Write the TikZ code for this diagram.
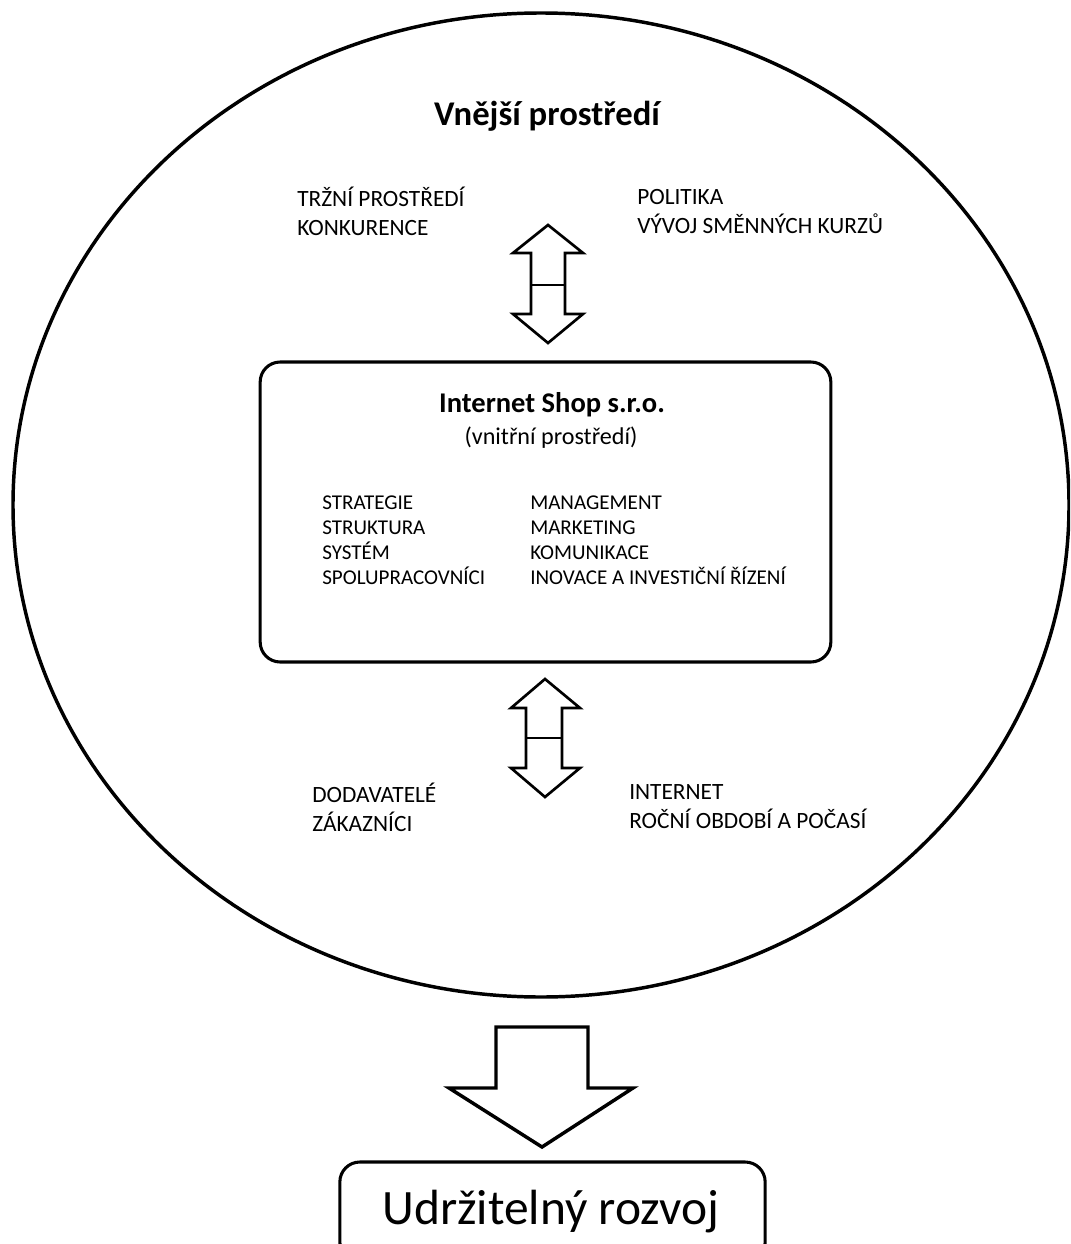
\documentclass[tikz,border=0pt]{standalone}
\usepackage{fontspec}
\setmainfont{Carlito}
\usetikzlibrary{shapes.geometric}

\tikzset{
	lbl/.style={anchor=base west, inner sep=0pt, align=left, font=\fontsize{17.5}{21.75}\selectfont},
	item/.style={anchor=base west, inner sep=0pt, font=\fontsize{15.8}{19}\selectfont},
	blk/.style={draw, line width=2.3pt, rounded corners=15pt},
	harrow/.style={draw, line width=2pt, line join=miter, fill=white}
}

\begin{document}
\begin{tikzpicture}[x=0.75pt, y=-0.75pt]
		\useasboundingbox (0,0) rectangle (1070,1244);
		\clip (0,0) rectangle (1070,1244);
		\fill[white] (0,0) rectangle (1070,1244);
		% outer environment
		\node[ellipse, draw, line width=2.6pt, inner sep=0pt, minimum width=792pt, minimum height=738pt] (env) at (541,505) {};
		\node[anchor=base, inner sep=0pt, font=\fontsize{26}{30}\selectfont\bfseries] (envtitle) at (547,126) {Vnější prostředí};
		% base = baseline of the second line
		\node[lbl] (market) at (297,236) {TRŽNÍ PROSTŘEDÍ\\KONKURENCE};
		\node[lbl] (policy) at (637,234) {POLITIKA\\VÝVOJ SMĚNNÝCH KURZŮ};
		\node[lbl] (supply) at (312,831) {DODAVATELÉ\\ZÁKAZNÍCI};
		\node[lbl] (net) at (629,828) {INTERNET\\ROČNÍ OBDOBÍ A POČASÍ};
		% internal environment
		\node[blk, minimum width=428pt, minimum height=225pt] (shop) at (545.5,512) {};
		\node[anchor=base, inner sep=0pt, font=\fontsize{21.4}{25}\selectfont\bfseries] (shopname) at (552,412) {Internet Shop s.r.o.};
		\node[anchor=base, inner sep=0pt, font=\fontsize{18.1}{21}\selectfont] (shopsub) at (551,444) {(vnitřní prostředí)};
		\foreach \y/\alph/\name in {
			509/s1/STRATEGIE,
			534/s2/STRUKTURA,
			559/s3/SYSTÉM,
			584/s4/SPOLUPRACOVNÍCI
		}{
			\node[item] (\alph) at (322,\y) {\name};
		}
		\foreach \y/\alph/\name in {
			509/m1/MANAGEMENT,
			534/m2/MARKETING,
			559/m3/KOMUNIKACE,
			584/m4/INOVACE A INVESTIČNÍ ŘÍZENÍ
		}{
			\node[item] (\alph) at (530,\y) {\name};
		}
		% double arrows
		\draw[harrow] (548,225) -- (583,253) -- (565,253) -- (565,314) -- (583,314) -- (548,343)
			-- (513,314) -- (531,314) -- (531,253) -- (513,253) -- cycle;
		\draw[line width=2pt] (531,285) -- (565,285);
		\draw[harrow] (545,679) -- (580,708) -- (562,708) -- (562,768) -- (580,768) -- (545,797)
			-- (511,768) -- (526,768) -- (526,708) -- (511,708) -- cycle;
		\draw[line width=2pt] (526,738) -- (562,738);
		% result
		\draw[harrow, line width=2.6pt] (496,1027) -- (588,1027) -- (588,1088) -- (633,1088) -- (542,1147)
			-- (449,1088) -- (496,1088) -- cycle;
		\node[blk, minimum width=319pt, minimum height=75pt] (goal) at (552.5,1212) {};
		\node[anchor=base, inner sep=0pt, font=\fontsize{37.1}{42}\selectfont] (goaltext) at (551,1224) {Udržitelný rozvoj};
	\end{tikzpicture}
\end{document}
